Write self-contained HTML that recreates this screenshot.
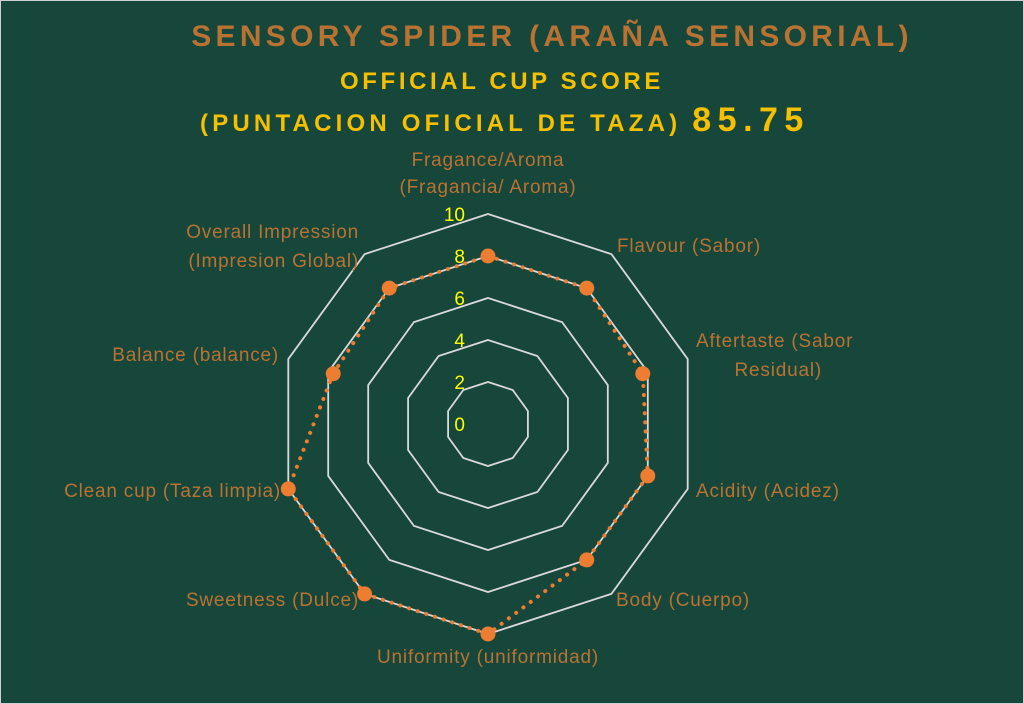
<!DOCTYPE html>
<html><head><meta charset="utf-8"><style>
html,body{margin:0;padding:0;background:#fff}
svg{display:block}
text{font-family:"Liberation Sans",sans-serif}
</style></head><body>
<svg width="1024" height="704" viewBox="0 0 1024 704" xmlns="http://www.w3.org/2000/svg">
<rect x="0.5" y="0.5" width="1023" height="703" fill="#17463b" stroke="#d0d0d0"/>
<text x="552" y="46" text-anchor="middle" font-size="30" font-weight="bold" fill="#b87333" letter-spacing="4.3">SENSORY SPIDER (ARAÑA SENSORIAL)</text>
<text x="502" y="89" text-anchor="middle" font-size="24" font-weight="bold" fill="#f5c000" letter-spacing="3.6">OFFICIAL CUP SCORE</text>
<text x="200" y="131" font-size="24" font-weight="bold" fill="#f5c000" letter-spacing="4.2">(PUNTACION OFICIAL DE TAZA) <tspan font-size="34" letter-spacing="6.5">85.75</tspan></text>
<g id="chart"></g>
<g font-size="19" fill="#b87333" letter-spacing="0.8">
<text x="488" y="166" text-anchor="middle">Fragance/Aroma</text>
<text x="488" y="193" text-anchor="middle">(Fragancia/ Aroma)</text>
<text x="617" y="252">Flavour (Sabor)</text>
<text x="696" y="347">Aftertaste (Sabor</text>
<text x="822" y="376" text-anchor="end">Residual)</text>
<text x="696" y="497">Acidity (Acidez)</text>
<text x="616" y="606">Body (Cuerpo)</text>
<text x="488" y="663" text-anchor="middle">Uniformity (uniformidad)</text>
<text x="359" y="606" text-anchor="end">Sweetness (Dulce)</text>
<text x="281" y="497" text-anchor="end">Clean cup (Taza limpia)</text>
<text x="279" y="361" text-anchor="end">Balance (balance)</text>
<text x="359" y="238" text-anchor="end">Overall Impression</text>
<text x="359" y="267" text-anchor="end">(Impresion Global)</text>
</g>
<g font-size="19" fill="#ffff00" text-anchor="end">
<text x="465" y="431">0</text>
<text x="465" y="389">2</text>
<text x="465" y="347">4</text>
<text x="465" y="305">6</text>
<text x="465" y="263">8</text>
<text x="465" y="221">10</text>
</g>
<script>
(function(){
var cx=488,cy=424,R=210,ns="http://www.w3.org/2000/svg",g=document.getElementById('chart');
function pt(i,r){var a=i*Math.PI/5;return [cx+r*Math.sin(a),cy-r*Math.cos(a)];}
for(var k=1;k<=5;k++){var p=[];for(var i=0;i<10;i++){var q=pt(i,R*k/5);p.push(q[0].toFixed(1)+','+q[1].toFixed(1));}
var e=document.createElementNS(ns,'polygon');e.setAttribute('points',p.join(' '));e.setAttribute('fill','none');e.setAttribute('stroke','#d9d9d9');e.setAttribute('stroke-width','1.8');g.appendChild(e);}
var v=[8,8,7.75,8,8,10,10,10,7.75,8],pp=[];
for(var i=0;i<10;i++){var q=pt(i,R*v[i]/10);pp.push(q);}
var s=pp.map(function(q){return q[0].toFixed(1)+','+q[1].toFixed(1)}).join(' ');
var e=document.createElementNS(ns,'polygon');e.setAttribute('points',s);e.setAttribute('fill','none');e.setAttribute('stroke','#ed7d31');e.setAttribute('stroke-width','4');e.setAttribute('stroke-dasharray','0.1 9');e.setAttribute('stroke-linecap','round');g.appendChild(e);
pp.forEach(function(q){var c=document.createElementNS(ns,'circle');c.setAttribute('cx',q[0]);c.setAttribute('cy',q[1]);c.setAttribute('r','7.5');c.setAttribute('fill','#ed7d31');g.appendChild(c);});
})();
</script>
</svg>
</body></html>
